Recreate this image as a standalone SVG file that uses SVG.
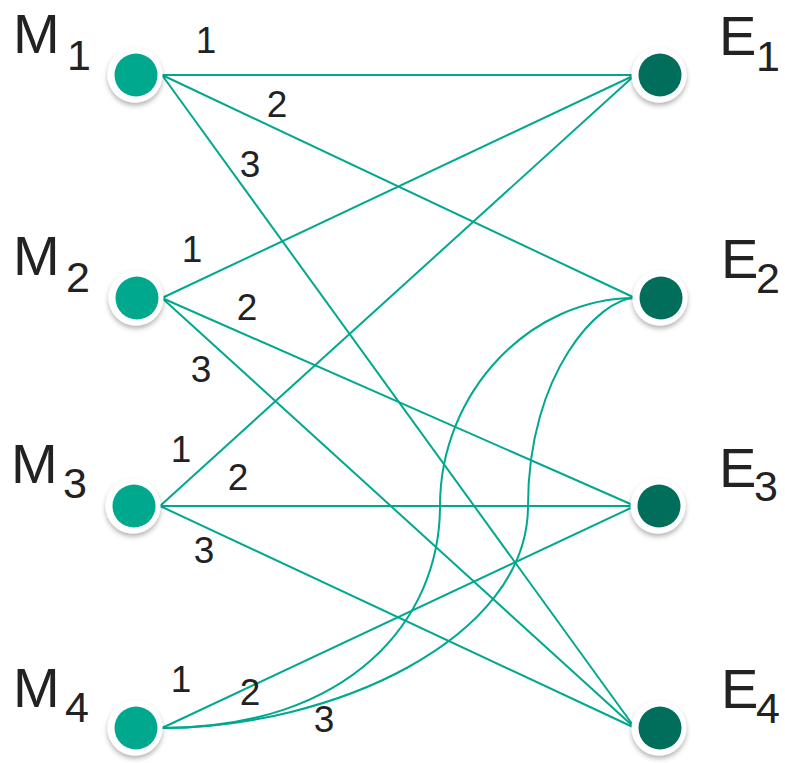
<svg xmlns="http://www.w3.org/2000/svg" width="785" height="763" viewBox="0 0 785 763">
<defs>
<filter id="sh" x="-50%" y="-50%" width="200%" height="200%">
<feDropShadow dx="0" dy="3" stdDeviation="2.5" flood-color="#000" flood-opacity="0.3"/>
</filter>
</defs>
<style>
.ring{fill:#fff;filter:url(#sh)}
.m{fill:#00A88E}
.e{fill:#006E5B}
.edge{fill:none;stroke:#00A88E;stroke-width:2}
.lbl{font-family:"Liberation Sans",Arial,sans-serif;fill:#222;}
.big{font-size:56px}
.sub{font-size:43px}
.num{font-size:37px;text-anchor:middle}
</style>
<rect width="785" height="763" fill="#fff"/>
<g id="connectors">
<path class="edge" d="M162 75 L635 75"/>
<path class="edge" d="M162 75 L635 298"/>
<path class="edge" d="M162 75 L635 728"/>
<path class="edge" d="M162 298 L635 75"/>
<path class="edge" d="M162 298 L635 506"/>
<path class="edge" d="M162 298 L635 728"/>
<path class="edge" d="M160 506 L635 75"/>
<path class="edge" d="M160 506 L635 506"/>
<path class="edge" d="M160 506 L635 728"/>
<path class="edge" d="M162 728 L635 506"/>
<path class="edge" d="M162 728 C350 728 440 620 440 506 S530 298 635 298"/>
<path class="edge" d="M162 728 C330 728 528 640 528 506 S600 298 635 298"/>
</g>
<g id="edge-labels" class="lbl num">
<text x="206" y="53">1</text>
<text x="277" y="117">2</text>
<text x="250" y="177">3</text>
<text x="192" y="262">1</text>
<text x="247" y="320">2</text>
<text x="201" y="382">3</text>
<text x="181" y="462">1</text>
<text x="238" y="490">2</text>
<text x="204" y="563">3</text>
<text x="181" y="692">1</text>
<text x="250" y="705">2</text>
<text x="324" y="732">3</text>
</g>
<g id="M1"><circle class="ring" cx="135" cy="75" r="27.5"/><circle class="m" cx="136" cy="75" r="21.5"/><text class="lbl big" x="13" y="53">M</text><text class="lbl sub" x="67" y="70">1</text></g>
<g id="M2"><circle class="ring" cx="136" cy="298" r="27.5"/><circle class="m" cx="137" cy="298" r="21.5"/><text class="lbl big" x="13" y="275">M</text><text class="lbl sub" x="66" y="292">2</text></g>
<g id="M3"><circle class="ring" cx="133" cy="506" r="27.5"/><circle class="m" cx="134" cy="506" r="21.5"/><text class="lbl big" x="11" y="483">M</text><text class="lbl sub" x="63" y="498">3</text></g>
<g id="M4"><circle class="ring" cx="135" cy="728" r="27.5"/><circle class="m" cx="136" cy="728" r="21.5"/><text class="lbl big" x="13" y="707">M</text><text class="lbl sub" x="65" y="722">4</text></g>
<g id="E1"><circle class="ring" cx="659" cy="75" r="27.5"/><circle class="e" cx="660" cy="75" r="21.5"/><text class="lbl big" x="719" y="55">E</text><text class="lbl sub" x="756" y="71">1</text></g>
<g id="E2"><circle class="ring" cx="660" cy="298" r="27.5"/><circle class="e" cx="661" cy="298" r="21.5"/><text class="lbl big" x="721" y="278">E</text><text class="lbl sub" x="756" y="293">2</text></g>
<g id="E3"><circle class="ring" cx="658" cy="506" r="27.5"/><circle class="e" cx="659" cy="506" r="21.5"/><text class="lbl big" x="719" y="487">E</text><text class="lbl sub" x="754" y="501">3</text></g>
<g id="E4"><circle class="ring" cx="659" cy="728" r="27.5"/><circle class="e" cx="660" cy="728" r="21.5"/><text class="lbl big" x="721" y="708">E</text><text class="lbl sub" x="756" y="723">4</text></g>
</svg>
